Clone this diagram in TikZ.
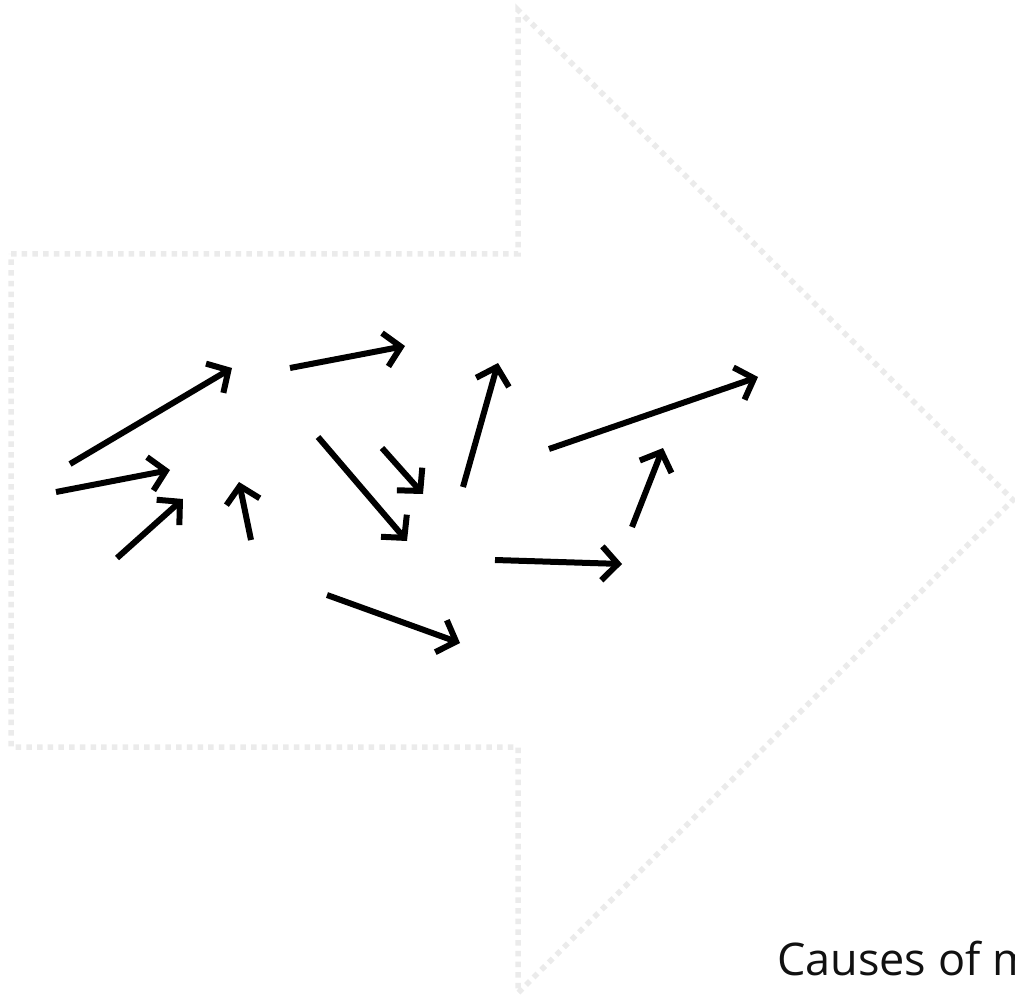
\documentclass[tikz,border=0pt]{standalone}
\usepackage{xcolor}
\usepackage{tikz}
\usepackage{fontspec}
\setmainfont{Open Sans}
\usetikzlibrary{arrows.meta,positioning}
\definecolor{OutlineGrey}{HTML}{EBEBEB}
\definecolor{CaptionInk} {HTML}{111111}

\begin{document}
\begin{tikzpicture}[x=1pt,y=-1pt,
    bigarrow/.style={draw=OutlineGrey,line width=5.5pt,dash pattern=on 5.5pt off 5.2pt},
    causearrow/.style={line width=6pt,-{Straight Barb[length=16pt,width=34pt,line width=6pt]}}]
    \useasboundingbox (0,0) rectangle (1015,1000);
    % big dotted arrow in the background
    \draw[bigarrow] (11,254) -- (518,254) -- (518,10) -- (1013,500)
      -- (518,993) -- (518,747) -- (11,747) -- cycle;
    % scattered causes
    \foreach \n/\sx/\sy/\ex/\ey in {a/70/464/232/368, b/56/492/170/470,
        c/117/558/183/499, d/251/540/239/482, e/290/368/405/346,
        f/318/437/407/541, g/382/448/423/494, h/463/487/498/363,
        i/327/595/460/643, j/495/560/622/564, k/549/449/758/377,
        l/632/527/663/448}{
      \coordinate (s\n) at (\sx,\sy);
      \coordinate (e\n) at (\ex,\ey);
      \draw[causearrow] (s\n) -- (e\n);
    }
    \node[anchor=base west,inner sep=0pt,text=CaptionInk,font=\fontsize{45}{54}\selectfont]
      (caption) at (777,975) {Causes of m};
  \end{tikzpicture}
\end{document}
